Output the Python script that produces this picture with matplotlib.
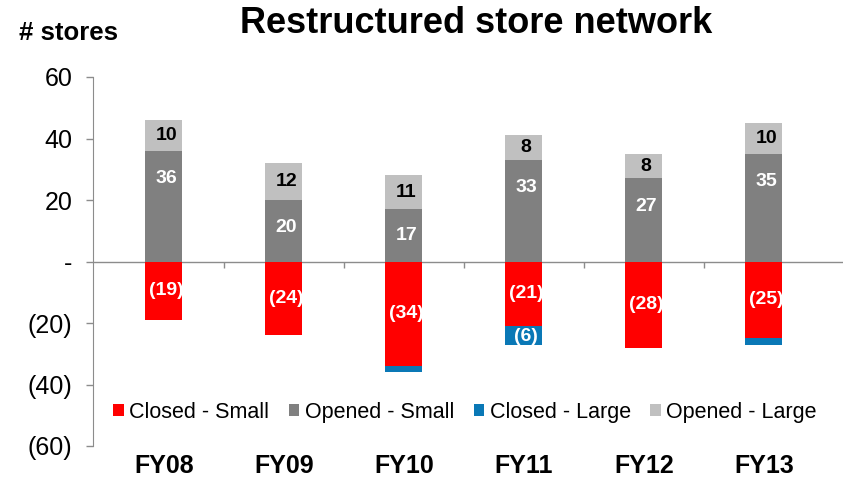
import matplotlib.pyplot as plt
import numpy as np

plt.rcParams['font.family'] = ['Liberation Sans', 'DejaVu Sans']

years = ['FY08', 'FY09', 'FY10', 'FY11', 'FY12', 'FY13']
closed_small = [-19, -24, -34, -21, -28, -25]
opened_small = [36, 20, 17, 33, 27, 35]
closed_large = [0, 0, -2, -6, 0, -2]
opened_large = [10, 12, 11, 8, 8, 10]

c_red = '#FF0000'
c_dgray = '#808080'
c_blue = '#0A78B6'
c_lgray = '#C0C0C0'

fig = plt.figure(figsize=(8.54, 4.92), dpi=100)
ax = fig.add_axes([93 / 854, 46 / 492, 750 / 854, 369 / 492])

x = np.arange(len(years))
w = 0.31
cs = np.array(closed_small)
os_ = np.array(opened_small)
cl = np.array(closed_large)
ol = np.array(opened_large)

ax.bar(x, cs, w, color=c_red, label='Closed - Small', zorder=2)
ax.bar(x, os_, w, color=c_dgray, label='Opened - Small', zorder=2)
ax.bar(x, cl, w, bottom=cs, color=c_blue, label='Closed - Large', zorder=2)
ax.bar(x, ol, w, bottom=os_, color=c_lgray, label='Opened - Large', zorder=2)

def fmt(v):
    return f'({abs(v)})' if v < 0 else f'{v}'

# data labels (sit a bit right of centre, like the original)
dx = 0.02
lbl = dict(ha='center', va='center', fontsize=14, fontweight='bold', zorder=3)
for i in range(len(years)):
    ax.text(x[i] + dx, cs[i] / 2, fmt(cs[i]), color='white', **lbl)
    ax.text(x[i] + dx, max(os_[i] - 9, os_[i] / 2), fmt(os_[i]), color='white', **lbl)
    ax.text(x[i] + dx, os_[i] + ol[i] / 2, fmt(ol[i]), color='black', **lbl)
    if cl[i] <= -5:
        ax.text(x[i] + dx, cs[i] + cl[i] / 2 - 0.5, fmt(cl[i]), color='white', **lbl)

# zero line with small ticks between categories
ax.axhline(0, color='#8C8C8C', lw=1, zorder=1)
ax.vlines(x[:-1] + 0.5, -2, 0, color='#8C8C8C', lw=1, zorder=1)

ax.set_xlim(-0.59, 5.66)
ax.set_ylim(-60, 60)
yt = [60, 40, 20, 0, -20, -40, -60]
ax.set_yticks(yt)
ax.set_yticklabels([fmt(v) if v != 0 else '-' for v in yt], fontsize=18)
ax.set_xticks(x)
ax.set_xticklabels(years, fontsize=18, fontweight='bold')
ax.tick_params(axis='x', length=0, pad=6)
ax.tick_params(axis='y', length=5, direction='out', width=1, color='#8C8C8C', pad=10)
for s in ['top', 'right', 'bottom']:
    ax.spines[s].set_visible(False)
ax.spines['left'].set_color('#8C8C8C')

ax.legend(loc='center', bbox_to_anchor=(0.496, 0.092), ncol=4, frameon=False,
          fontsize=15.5, handlelength=0.5, handleheight=0.5, handletextpad=0.25,
          columnspacing=0.9)

fig.text(0.557, 0.952, 'Restructured store network', ha='center', va='center',
         fontsize=26, fontweight='bold')
fig.text(0.022, 0.932, '# stores', ha='left', va='center',
         fontsize=18.5, fontweight='bold')

fig.savefig('out.png', dpi=100)
